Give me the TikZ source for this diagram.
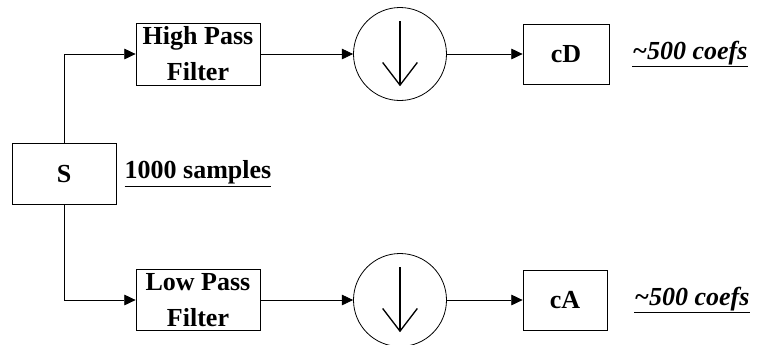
\documentclass[tikz,border=0pt]{standalone}
\usepackage{fontspec}
\setmainfont{Liberation Serif}
\usetikzlibrary{arrows.meta, positioning}

\begin{document}
\begin{tikzpicture}[
  x=0.75pt, y=-0.75pt,
  block/.style={rectangle, draw, line width=0.6pt, minimum width=93pt,
    minimum height=46.5pt, font=\fontsize{19.5}{27}\selectfont\bfseries,
    align=center, inner sep=1pt},
  down/.style={circle, draw, line width=0.6pt, minimum size=69.75pt, inner sep=0pt},
  note/.style={font=\fontsize{19.5}{22}\selectfont\bfseries, inner sep=0pt},
  arr/.style={-{Triangle[length=8.5pt,width=8pt]}, line width=0.6pt},
  sampl/.style={line width=1pt, -{Straight Barb[length=17pt,width=26pt]}}
]
  \useasboundingbox (0,0) rectangle (761,344);

  \node[block, minimum width=78pt, minimum height=45.75pt] (sig) at (64,174) {S};
  \node[note, right=6pt of sig] (nsamp) {\underline{1000 samples}};

  %% Upper branch
  \node[block] (hpf) at (198,54) {High Pass\\Filter};
  \node[down] (dhigh) at (400,54) {};
  \node[block, minimum width=64.5pt, minimum height=45pt] (cd) at (566,54) {cD};
  \node[note, right=17pt of cd] (ncd)
    {\itshape\underline{\textasciitilde500 coefs}};

  %% Lower branch
  \node[block, minimum height=45.75pt] (lpf) at (198,300) {Low Pass\\Filter};
  \node[down] (dlow) at (400,300) {};
  \node[block, minimum width=63pt, minimum height=45pt] (ca) at (565,300) {cA};
  \node[note, right=20pt of ca] (nca)
    {\itshape\underline{\textasciitilde500 coefs}};

  \draw[arr] (sig.north) |- (hpf.west);
  \draw[arr] (sig.south) |- (lpf.west);
  \draw[arr] (hpf) -- (dhigh);
  \draw[arr] (dhigh) -- (cd);
  \draw[arr] (lpf) -- (dlow);
  \draw[arr] (dlow) -- (ca);

  %% downsampling arrows
  \draw[sampl] ([yshift=-10.5pt]dhigh.north) -- ([yshift=11pt]dhigh.south);
  \draw[sampl] ([yshift=-10.5pt]dlow.north) -- ([yshift=11pt]dlow.south);
\end{tikzpicture}
\end{document}
